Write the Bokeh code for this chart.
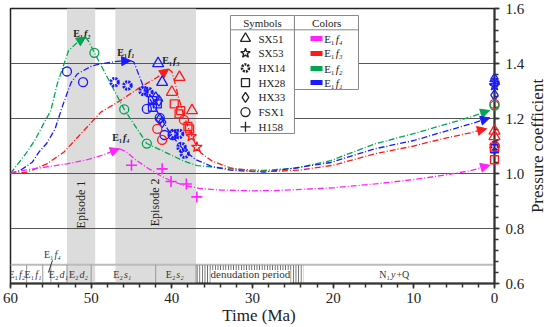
import numpy as np
from bokeh.plotting import figure
from bokeh.models import Range1d, FixedTicker, Arrow, NormalHead, NumeralTickFormatter
from bokeh.core.properties import value
from bokeh.embed import file_html
from bokeh.resources import INLINE

FONT = "Liberation Serif"
COL = {"f4": "#ff22ff", "f3": "#ff1a1a", "f2": "#00a651", "f1": "#1a1aff"}

# ---------------- data ----------------
# curves (time Ma, pressure coefficient)
green_rise_t = [60, 59.4, 58.1, 57.0, 56.0, 55.0, 54.2, 52.8, 51.7, 50.7]
green_rise_v = [1.0, 1.023, 1.072, 1.12, 1.175, 1.229, 1.326, 1.447, 1.477, 1.496]
green_fall_t = [50.7, 50.3, 49.6, 48.0, 45.9, 43.1, 41.0, 38.5, 36.9, 32.7, 28.6, 24.5, 20.3, 14.8, 10.0, 6.5, 3.0, 0.6]
green_fall_v = [1.496, 1.48, 1.439, 1.35, 1.233, 1.109, 1.08, 1.045, 1.029, 1.017, 1.011, 1.02, 1.047, 1.108, 1.145, 1.175, 1.205, 1.229]

blue_rise_t = [60, 58.8, 57.3, 56.5, 55.5, 54.5, 53.5, 52.5, 51.7, 50.0, 48.8, 46.8, 45.1]
blue_rise_v = [1.0, 1.011, 1.041, 1.077, 1.11, 1.16, 1.25, 1.33, 1.362, 1.39, 1.399, 1.408, 1.41]
blue_fall_t = [45.1, 44.7, 43.5, 42.5, 41.5, 40.5, 39.5, 38.5, 37.0, 35.0, 32.7, 28.6, 24.7, 20.3, 14.8, 10.0, 6.5, 3.0, 0.6]
blue_fall_v = [1.41, 1.405, 1.314, 1.26, 1.21, 1.16, 1.12, 1.085, 1.05, 1.025, 1.012, 1.005, 1.02, 1.04, 1.09, 1.12, 1.15, 1.18, 1.202]

red_rise_t = [60, 57.9, 55.5, 53.4, 51.1, 48.8, 46.4, 43.9, 41.8, 40.4]
red_rise_v = [1.0, 1.005, 1.035, 1.077, 1.15, 1.223, 1.265, 1.314, 1.35, 1.38]
red_fall_t = [40.4, 40.0, 39.7, 39.2, 38.6, 38.0, 37.3, 36.4, 35.0, 32.7, 30.0, 27.0, 24.0, 20.0, 14.8, 10.0, 6.5, 3.0, 1.0]
red_fall_v = [1.38, 1.37, 1.34, 1.28, 1.22, 1.17, 1.12, 1.075, 1.045, 1.02, 1.008, 1.008, 1.013, 1.03, 1.072, 1.1, 1.126, 1.148, 1.163]

mag_rise_t = [60, 59.6, 57.1, 53.0, 50.5, 48.8, 46.5]
mag_rise_v = [1.0, 1.005, 1.017, 1.035, 1.05, 1.065, 1.09]
mag_fall_t = [46.5, 45.7, 44.5, 43.0, 41.3, 40.0, 38.5, 36.4, 34.0, 30.0, 27.2, 20.0, 14.8, 10.0, 6.5, 3.0, 0.6]
mag_fall_v = [1.09, 1.08, 1.05, 1.02, 0.99, 0.972, 0.957, 0.945, 0.94, 0.937, 0.938, 0.948, 0.962, 0.978, 0.993, 1.01, 1.03]

# well samples: time, value, formation colour key
sx51_t = [41.7, 41.2, 39.05, 40.0, 37.5, 0, 0]
sx51_v = [1.40, 1.332, 1.35, 1.296, 1.229, 1.155, 1.135]
sx51_f = ["f1", "f1", "f3", "f3", "f3", "f3", "f3"]
sx53_t = [37.6, 36.9, 0]
sx53_v = [1.135, 1.096, 1.32]
sx53_f = ["f3", "f3", "f1"]
hx14_t = [47.1, 45.5, 43.5, 42.9, 39.8, 39.1, 38.8, 38.4, 0, 0]
hx14_v = [1.332, 1.32, 1.30, 1.296, 1.144, 1.144, 1.096, 1.072, 1.33, 1.10]
hx14_f = ["f1"] * 10
hx28_t = [42.4, 41.8, 42.4, 39.7, 38.9, 39.1, 38.0, 37.8, 0, 0, 0]
hx28_v = [1.265, 1.253, 1.241, 1.253, 1.229, 1.217, 1.171, 1.162, 1.09, 1.096, 1.05]
hx28_f = ["f1", "f1", "f1", "f3", "f3", "f3", "f3", "f3", "f1", "f3", "f3"]
hx33_t = [42.0, 41.6, 41.5, 41.2, 0, 0]
hx33_v = [1.277, 1.265, 1.198, 1.187, 1.344, 1.285]
hx33_f = ["f1"] * 6
fsx1_t = [53.0, 51.0, 43.1, 41.5, 40.9, 39.9, 49.6, 45.9, 43.1, 41.8, 41.2, 38.5, 0, 0]
fsx1_v = [1.371, 1.332, 1.235, 1.202, 1.140, 1.140, 1.439, 1.233, 1.109, 1.162, 1.122, 1.195, 1.253, 1.247]
fsx1_f = ["f1"] * 6 + ["f2"] * 3 + ["f3"] * 3 + ["f3", "f2"]
h158_t = [45.0, 41.2, 40.1, 38.2, 36.9]
h158_v = [1.03, 1.017, 0.971, 0.962, 0.915]
h158_f = ["f4"] * 5

# episodes and stratigraphy (Ma)
episode_start = [53.0, 47.0]
episode_end = [49.5, 37.0]
episode_names = ["Episode 1", "Episode 2"]
strat_bounds = [58, 56, 55, 53, 50, 42, 37]
denud_start, denud_end = 37.0, 23.7

x_major = [60, 50, 40, 30, 20, 10, 0]
x_minor = list(range(0, 61, 2))
y_major = [0.6, 0.8, 1.0, 1.2, 1.4, 1.6]
y_minor = [round(0.6 + 0.04 * i, 2) for i in range(26)]

# ---------------- figure ----------------
p = figure(width=550, height=327, x_range=Range1d(60, 0), y_range=Range1d(0.6, 1.6),
           output_backend="svg", toolbar_location=None, y_axis_location="right",
           min_border_left=10, min_border_right=56, min_border_top=8, min_border_bottom=44)
p.xgrid.visible = False
p.ygrid.visible = False
p.outline_line_color = "#222222"
p.outline_line_width = 1.5
p.background_fill_color = "white"

for ax in (p.xaxis[0], p.yaxis[0]):
    ax.axis_line_color = "#333333"
    ax.axis_line_width = 2
    ax.major_tick_line_color = "#333333"
    ax.minor_tick_line_color = "#333333"
    ax.major_tick_line_width = 1.5
    ax.minor_tick_line_width = 1.5
    ax.major_tick_in = 0
    ax.minor_tick_in = 0
    ax.major_tick_out = 5
    ax.minor_tick_out = 4
    ax.major_label_text_font = FONT
    ax.major_label_text_font_size = "15px"
    ax.major_label_text_color = "#222222"

p.xaxis.ticker = FixedTicker(ticks=x_major, minor_ticks=x_minor)
p.yaxis.ticker = FixedTicker(ticks=y_major, minor_ticks=y_minor)
p.yaxis.formatter = NumeralTickFormatter(format="0.0")
p.xaxis.major_label_standoff = 4
p.yaxis.major_label_standoff = 6

# axis titles: text glyphs at overlay level (not clipped by the frame)
p.text(x=[29.2], y=[0.4836], text=["Time (Ma)"], text_font=value(FONT), text_font_size="17px",
       text_color="#222222", text_align="center", text_baseline="middle", level="overlay")
p.text(x=[-5.33], y=[1.1], text=["Pressure coefficient"], angle=np.pi / 2,
       text_font=value(FONT), text_font_size="17px", text_color="#222222",
       text_align="center", text_baseline="middle", level="overlay")

# shading
p.quad(left=episode_start, right=episode_end, bottom=0.6, top=1.6,
       fill_color="#dcdcdc", line_color=None)

# grid lines
p.segment(x0=60, x1=0, y0=y_major[1:-1], y1=y_major[1:-1], line_color="#555555", line_width=1)

# stratigraphy band
BAND_TOP = 0.668
p.segment(x0=60, x1=0, y0=BAND_TOP, y1=BAND_TOP, line_color="#bbbbbb", line_width=2)
p.segment(x0=strat_bounds, x1=strat_bounds, y0=0.6, y1=BAND_TOP, line_color="#999999", line_width=1)
p.quad(left=[denud_end], right=[denud_start], bottom=0.6, top=BAND_TOP - 0.002,
       fill_color=None, line_color=None, hatch_pattern="vertical_line",
       hatch_color="#333333", hatch_scale=2.6, hatch_weight=0.8)
p.quad(left=[25.3], right=[35.2], bottom=0.601, top=0.649, fill_color="white", line_color=None)
p.text(x=[30.25], y=[0.633], text=["denudation period"], text_font=value(FONT),
       text_font_size="11px", text_align="center", text_baseline="middle", text_color="#333333")


def sub_label(x, y, left, right, size="10px", color="#333333", style="normal", extra=None):
    p.text(x=[x], y=[y], text=[left], text_align="right", text_baseline="middle",
           text_font=value(FONT), text_font_size=size, text_color=color, text_font_style=style,
           x_offset=-0.5)
    it = "bold italic" if style == "bold" else "italic"
    p.text(x=[x], y=[y], text=[right], text_align="left", text_baseline="middle",
           text_font=value(FONT), text_font_size=size, text_color=color, text_font_style=it,
           x_offset=0.5)
    if extra:
        p.text(x=[x], y=[y], text=[extra[0]], text_align="left", text_baseline="middle",
               text_font=value(FONT), text_font_size=size, text_color=color,
               text_font_style=style, x_offset=extra[1])


BY = 0.633
sub_label(59.0, BY, "E₁", "f₂")
sub_label(57.0, BY, "E₁", "f₁")
sub_label(54.0, BY, "E₂", "d₁")
sub_label(51.5, BY, "E₂", "d₂")
sub_label(46.0, BY, "E₂", "s₁")
sub_label(39.5, BY, "E₂", "s₂")
sub_label(12.9, BY, "N₁", "y", extra=("+Q", 6))
sub_label(54.6, 0.705, "E₁", "f₄")
p.segment(x0=[55.3], x1=[54.8], y0=[0.64], y1=[0.684], line_color="#333333", line_width=1)

# episode labels
p.text(x=[51.3, 42.05], y=[0.887, 0.895], text=episode_names, angle=np.pi / 2,
       text_font=value(FONT), text_font_size="12px", text_align="center",
       text_baseline="middle", text_color="#222222")

# curves
DASH = "6 2 1 2"
curves = [
    (green_rise_t, green_rise_v, green_fall_t, green_fall_v, COL["f2"]),
    (blue_rise_t, blue_rise_v, blue_fall_t, blue_fall_v, COL["f1"]),
    (red_rise_t, red_rise_v, red_fall_t, red_fall_v, COL["f3"]),
    (mag_rise_t, mag_rise_v, mag_fall_t, mag_fall_v, COL["f4"]),
]
for rt, rv, ft, fv, c in curves:
    p.line(rt, rv, line_color=c, line_width=1.3, line_dash=DASH)
    p.line(ft, fv, line_color=c, line_width=1.3, line_dash=DASH)
    for tt, vv in ((rt, rv), (ft, fv)):
        p.add_layout(Arrow(end=NormalHead(size=9, fill_color=c, line_color=c, line_width=1),
                           x_start=tt[-2], y_start=vv[-2], x_end=tt[-1], y_end=vv[-1],
                           line_alpha=0))

sub_label(50.95, 1.509, "E₁", "f₂", size="10px", color="#222222", style="bold")
sub_label(45.5, 1.44, "E₁", "f₁", size="10px", color="#222222", style="bold")
sub_label(39.92, 1.411, "E₁", "f₃", size="10px", color="#222222", style="bold")
sub_label(46.12, 1.131, "E₁", "f₄", size="10px", color="#222222", style="bold")

# markers (drawn at overlay level so samples at 0 Ma sit over the axis unclipped)
GEAR = value("2 1")

def pts(t, v, f, marker, size, lw=1.3, dash=value("solid")):
    p.scatter(t, v, marker=marker, size=size, fill_color=None,
              line_color=[COL[k] for k in f], line_width=lw, line_dash=dash, level="overlay")

pts(hx14_t, hx14_v, hx14_f, "circle", 7.5, lw=3, dash=GEAR)
pts(hx28_t, hx28_v, hx28_f, "square", 8)
pts(hx33_t, hx33_v, hx33_f, "diamond", 11)
pts(fsx1_t, fsx1_v, fsx1_f, "circle", 9)
pts(sx51_t, sx51_v, sx51_f, "triangle", 11)
pts(sx53_t, sx53_v, sx53_f, "star", 11)
pts(h158_t, h158_v, h158_f, "cross", 11, lw=1.6)

# legend tables
SB = (32.73, 24.8, 1.1455, 1.5745)
CB = (24.8, 16.86, 1.3055, 1.5745)
HEAD = 1.5225
p.quad(left=[SB[0], CB[0]], right=[SB[1], CB[1]], bottom=[SB[2], CB[2]], top=[SB[3], CB[3]],
       fill_color="white", line_color="#888888", line_width=1)
p.segment(x0=[SB[0], CB[0]], x1=[SB[1], CB[1]], y0=HEAD, y1=HEAD, line_color="#888888", line_width=1)
p.text(x=[28.76, 20.8], y=[1.549, 1.549], text=["Symbols", "Colors"], text_font=value(FONT),
       text_font_size="11px", text_align="center", text_baseline="middle", text_color="#222222")

sym_names = ["SX51", "SX53", "HX14", "HX28", "HX33", "FSX1", "H158"]
sym_markers = ["triangle", "star", "circle", "square", "diamond", "circle", "cross"]
sym_sizes = [10, 10, 7, 8, 10, 9, 10]
row_v = [1.4909 - 0.0535 * i for i in range(7)]
for i, (nm, mk, sz) in enumerate(zip(sym_names, sym_markers, sym_sizes)):
    if nm == "HX14":
        p.scatter([30.87], [row_v[i]], marker=mk, size=sz, fill_color=None, line_color="#222222",
                  line_width=2.6, line_dash=GEAR)
    else:
        p.scatter([30.87], [row_v[i]], marker=mk, size=sz, fill_color=None, line_color="#222222",
                  line_width=1.3)
p.text(x=[29.26] * 7, y=row_v, text=sym_names, text_font=value(FONT), text_font_size="11px",
       text_align="left", text_baseline="middle", text_color="#222222")

col_keys = ["f4", "f3", "f2", "f1"]
col_v = [1.4909, 1.4364, 1.3818, 1.3309]
p.segment(x0=[22.81] * 4, x1=[21.32] * 4, y0=col_v, y1=col_v,
          line_color=[COL[k] for k in col_keys], line_width=5)
for k, vv in zip(col_keys, col_v):
    sub_label(19.75, vv, "E₁", "f" + {"f1": "₁", "f2": "₂", "f3": "₃", "f4": "₄"}[k],
              size="11px", color="#222222")

open("out.html", "w").write(file_html(p, INLINE))
